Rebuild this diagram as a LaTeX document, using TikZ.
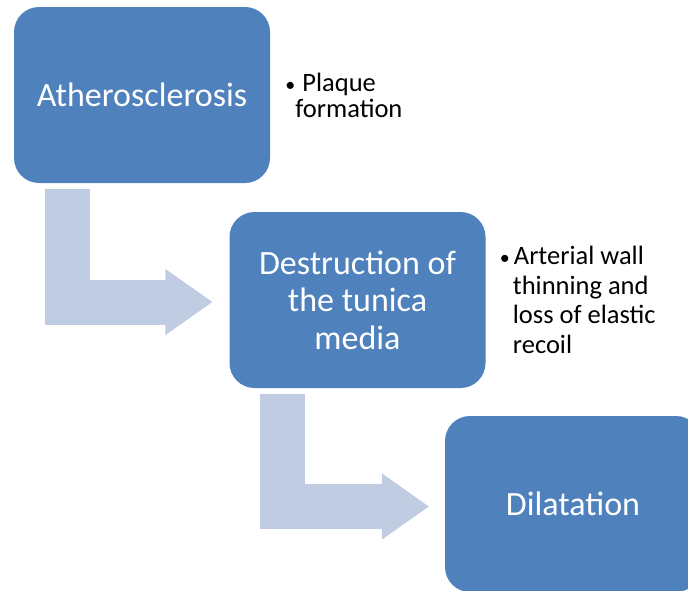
\documentclass[tikz,border=0pt]{standalone}
\usepackage{fontspec}
\setmainfont{Carlito}
\usetikzlibrary{arrows.meta,positioning}
\definecolor{stageblue}{HTML}{4F81BD}
\definecolor{flowlight}{HTML}{C0CCE2}
\newcommand{\dotmark}[1]{\makebox[#1][l]{\fontsize{20}{20}\selectfont\textbullet}}

\begin{document}
\begin{tikzpicture}[
  x=1pt, y=-1pt,
  stage/.style={fill=stageblue, rounded corners=25pt, minimum width=256pt,
                minimum height=176pt, align=center, text=white,
                font=\fontsize{34}{37.5}\selectfont},
  note/.style={align=left, inner sep=0pt, font=\fontsize{26.5}{29.5}\selectfont},
  bent/.style={draw=flowlight, line width=45pt, line join=miter,
               -{Triangle[width=66pt, length=47pt, line width=1.5pt]}}
]
\clip (0,0) rectangle (688,590);

\node[stage] (athero) at (142,95) {Atherosclerosis};
\node[stage] (media) at (357.5,300) {Destruction of\\the tunica\\media};
\node[stage] (dilat) at (573,504) {Dilatation};

\node[note, right=15pt of athero, font=\fontsize{26.5}{26}\selectfont] (plaque)
  {\dotmark{17pt}Plaque\\\hspace*{10pt}formation};
\node[note, right=14pt of media] (wall)
  {\dotmark{14pt}Arterial wall\\\hspace*{13pt}thinning and\\
   \hspace*{13pt}loss of elastic\\\hspace*{13pt}recoil};

\draw[bent] ([xshift=53.5pt, yshift=-6pt]athero.south west)
  |- ([xshift=-17pt, yshift=-2pt]media.west);
\draw[bent] ([xshift=53.5pt, yshift=-6pt]media.south west)
  |- ([xshift=-16pt, yshift=-2.5pt]dilat.west);
\end{tikzpicture}
\end{document}
